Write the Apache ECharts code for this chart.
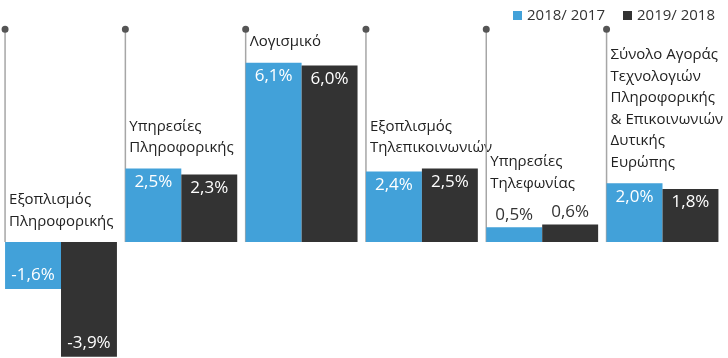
<!DOCTYPE html>
<html><head><meta charset="utf-8">
<script src="https://cdn.jsdelivr.net/npm/echarts@6/dist/echarts.min.js"></script>
<style>html,body{margin:0;padding:0;background:#fff}#c{width:728px;height:358px}</style>
</head><body><div id="c"></div>
<script>
var categories = [
  "Εξοπλισμός\nΠληροφορικής",
  "Υπηρεσίες\nΠληροφορικής",
  "Λογισμικό",
  "Εξοπλισμός\nΤηλεπικοινωνιών",
  "Υπηρεσίες\nΤηλεφωνίας",
  "Σύνολο Αγοράς\nΤεχνολογιών\nΠληροφορικής\n& Επικοινωνιών\nΔυτικής\nΕυρώπης"
];
var seriesNames = ["2018/ 2017", "2019/ 2018"];
var values1817 = [-1.6, 2.5, 6.1, 2.4, 0.5, 2.0];
var values1918 = [-3.9, 2.3, 6.0, 2.5, 0.6, 1.8];

var BLUE = '#42a1d9', DARK = '#333333';
var FONT = '"Open Sans", "Noto Sans", sans-serif';
var BARW = 0.465;

function fmt(v){ return v.toFixed(1).replace('.', ',') + '%'; }
function barData(arr){
  return arr.map(function(v){
    var lab;
    if (v < 0) lab = {position:'insideBottom', distance:5, color:'#fff'};
    else if (v < 1) lab = {position:'top', distance:4, color:'#333'};
    else lab = {position:'insideTop', distance:5, color:'#fff'};
    return {value:v, label:lab};
  });
}
var markerData = categories.map(function(c, i){
  var mx = Math.max(values1817[i], values1918[i], 0);
  var small = (mx > 0 && mx < 1) ? 1 : 0;
  return [i, mx, small];
});

var chart = echarts.init(document.getElementById('c'));
chart.setOption({
  animation:false,
  textStyle:{fontFamily:FONT},
  legend:{
    data:seriesNames, right:8, top:3, icon:'rect', itemWidth:9, itemHeight:9, itemGap:18,
    textStyle:{fontSize:15, color:'#333', fontFamily:FONT}
  },
  grid:{left:0.85, right:5.35, top:27.4, bottom:1.3, containLabel:false},
  xAxis:{type:'category', data:categories, show:false},
  yAxis:{type:'value', min:-3.9, max:7.3, show:false, splitLine:{show:false}},
  series:[
    {
      type:'custom', z:1, silent:true, clip:false,
      data:markerData,
      renderItem:function(params, api){
        var idx = api.value(0), mx = api.value(1), small = api.value(2);
        var c0 = api.coord([idx, 0]);
        var bw = api.size([1, 0])[0];
        var x = c0[0] - bw * BARW;
        var yTop = api.coord([idx, 7.24])[1];
        var yBar = api.coord([idx, mx])[1];
        var ty = yBar - 10 - (small ? 20 : 0);
        return {type:'group', children:[
          {type:'line', shape:{x1:x, y1:yTop, x2:x, y2:c0[1]}, style:{stroke:'#a6a6a6', lineWidth:1.5}},
          {type:'circle', shape:{cx:x, cy:yTop, r:3.5}, style:{fill:'#555'}},
          {type:'text', style:{text:categories[idx], x:x+4, y:ty, align:'left', verticalAlign:'bottom',
            font:'15px ' + FONT, lineHeight:21.5, fill:'#222'}}
        ]};
      }
    },
    {
      name:seriesNames[0], type:'bar', z:2, barWidth:(BARW*100)+'%', barGap:'0%',
      itemStyle:{color:BLUE},
      label:{show:true, fontSize:17, fontFamily:FONT, formatter:function(p){return fmt(p.value);}},
      data:barData(values1817)
    },
    {
      name:seriesNames[1], type:'bar', z:2, barWidth:(BARW*100)+'%', barGap:'0%',
      itemStyle:{color:DARK},
      label:{show:true, fontSize:17, fontFamily:FONT, formatter:function(p){return fmt(p.value);}},
      data:barData(values1918)
    }
  ]
});
</script></body></html>
